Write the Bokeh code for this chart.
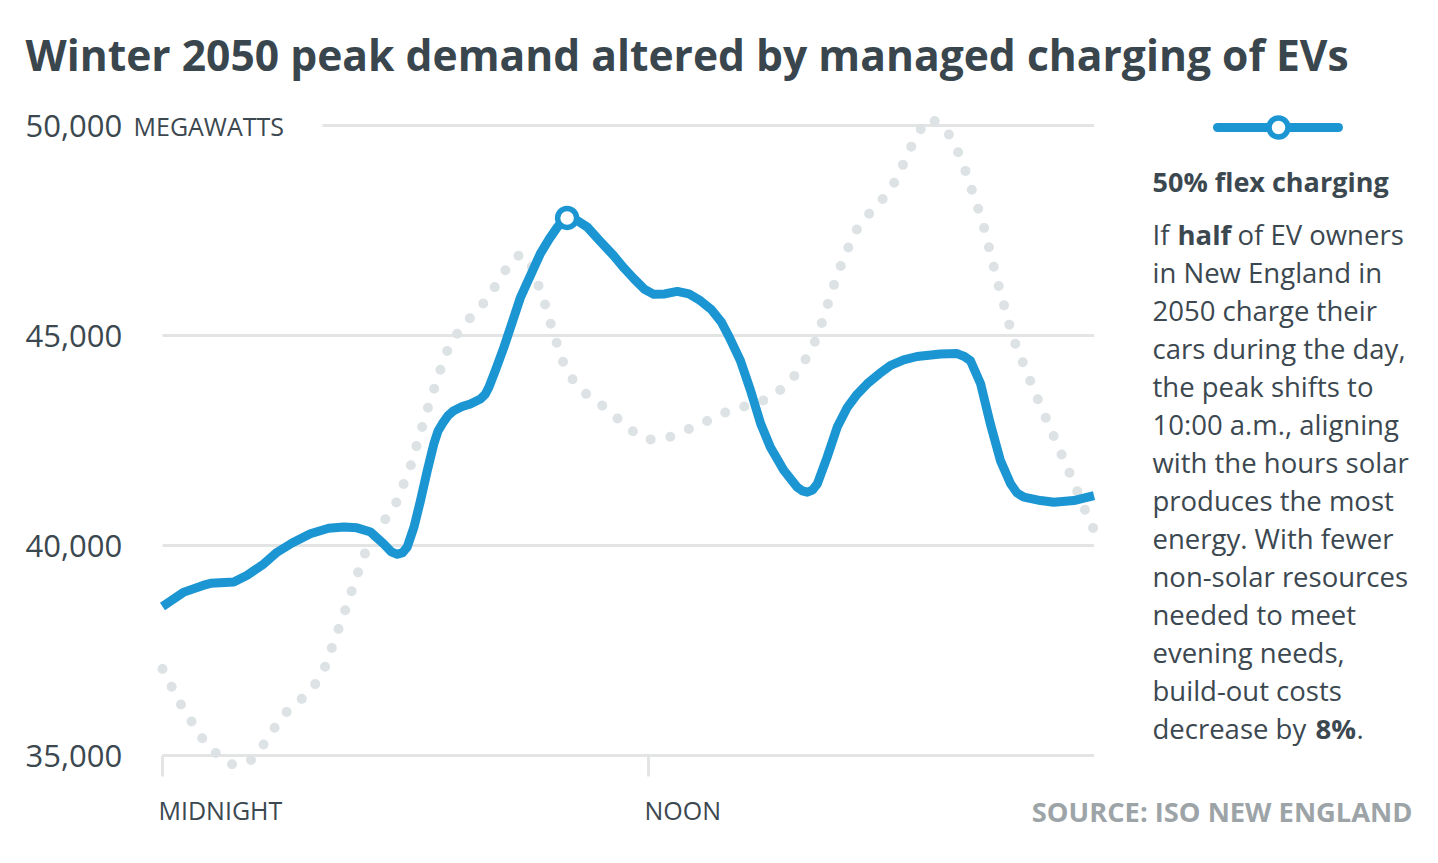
from bokeh.plotting import figure
from bokeh.models import Range1d, Label
from bokeh.embed import file_html
from bokeh.resources import INLINE

# ---------------- data ----------------
hours_flex = [0, 0.53, 1.0, 1.19, 1.76, 2.09, 2.5, 2.83, 3.2, 3.65, 4.1, 4.48, 4.8, 5.14,
              5.46, 5.65, 5.8, 5.93, 6.04, 6.21, 6.37, 6.54, 6.7, 6.8, 6.91, 7.05, 7.19,
              7.4, 7.6, 7.85, 7.97, 8.06, 8.22, 8.43, 8.84, 9.33, 9.55, 9.75, 9.9, 9.99,
              10.2, 10.49, 10.8, 11.14, 11.4, 11.64, 11.9, 12.13, 12.4, 12.71, 13.0,
              13.25, 13.55, 13.8, 14.0, 14.27, 14.52, 14.77, 15.01, 15.34, 15.67, 15.8,
              15.92, 16.05, 16.17, 16.41, 16.66, 16.91, 17.15, 17.4, 17.7, 17.98, 18.3,
              18.63, 19.21, 19.62, 19.8, 19.95, 20.2, 20.44, 20.69, 20.94, 21.1, 21.27,
              21.68, 22.01, 22.5, 23.0]
mw_flex = [38550, 38890, 39050, 39100, 39130, 39290, 39560, 39840, 40060, 40280, 40410,
           40440, 40420, 40320, 40040, 39850, 39790, 39830, 39960, 40440, 41070, 41790,
           42420, 42720, 42900, 43090, 43210, 43310, 43370, 43490, 43600, 43770, 44170,
           44720, 45910, 46950, 47300, 47580, 47750, 47800, 47760, 47580, 47250, 46900,
           46600, 46350, 46100, 45980, 45990, 46050, 45990, 45850, 45620, 45320, 44950,
           44400, 43690, 42900, 42340, 41790, 41390, 41300, 41270, 41320, 41470, 42100,
           42820, 43290, 43600, 43850, 44090, 44290, 44420, 44500, 44560, 44570, 44500,
           44400, 43850, 42900, 42020, 41470, 41250, 41150, 41070, 41030, 41070, 41190]

hours_base = [0, 0.44, 0.97, 1.3, 1.69, 2.15, 2.46, 2.73, 3.03, 3.4, 3.74, 3.99, 4.49,
              4.97, 5.46, 5.75, 6.12, 6.53, 6.99, 7.23, 7.54, 7.88, 8.17, 8.43, 8.72,
              8.9, 9.09, 9.43, 9.57, 9.86, 10.08, 10.4, 10.81, 11.19, 11.56, 11.98,
              12.46, 12.92, 13.37, 13.82, 14.28, 14.75, 15.18, 15.55, 15.83, 16.07,
              16.25, 16.55, 16.71, 17.08, 17.38, 17.72, 18.02, 18.24, 18.44, 18.65,
              18.97, 19.35, 19.59, 19.78, 20.25, 20.61, 21.0, 21.56, 22.14, 22.53,
              22.91, 23.0]
mw_base = [37060, 36240, 35420, 35070, 34790, 34850, 35210, 35610, 36010, 36310, 36650,
           37050, 38400, 39760, 40570, 40970, 41870, 43210, 44560, 44990, 45360, 45710,
           46100, 46510, 46880, 46930, 46710, 45790, 45330, 44430, 44010, 43650, 43370,
           43060, 42750, 42520, 42560, 42740, 42930, 43140, 43290, 43410, 43640, 43970,
           44350, 44760, 45210, 46120, 46570, 47440, 47830, 48170, 48550, 48970, 49400,
           49830, 50180, 49900, 49490, 49050, 47700, 46310, 44940, 43600, 42300, 41430,
           40540, 40380]

y_ticks = [35000, 40000, 45000, 50000]
y_tick_labels = ["35,000", "40,000", "45,000", "50,000"]
y_unit_label = "MEGAWATTS"
x_ticks = [0, 12]
x_tick_labels = ["MIDNIGHT", "NOON"]

title_text = "Winter 2050 peak demand altered by managed charging of EVs"
legend_title = "50% flex charging"
source_text = "SOURCE: ISO NEW ENGLAND"

# ---------------- geometry / styles ----------------
BLUE = "#1b96d3"
DOT = "#dde2e5"
GRID = "#e3e4e4"
INK = "#3c4850"
FONT = "Open Sans"

W, H = 1430, 850
PX_H = 40.5          # pixels per hour
PX_MW = 0.042        # pixels per MW
X0 = 162             # canvas x of hour 0
Y0 = 755             # canvas y of 35,000


def hx(cx):
    return (cx - X0) / PX_H


def vy(cy):
    return 35000 + (Y0 - cy) / PX_MW


# the frame spans the whole canvas so that texts are not clipped
p = figure(width=W, height=H, output_backend="svg", toolbar_location=None,
           x_range=Range1d(hx(0), hx(W)), y_range=Range1d(vy(H), vy(0)),
           min_border=0, min_border_left=0, min_border_right=0,
           min_border_top=0, min_border_bottom=0)
p.axis.visible = False
p.grid.visible = False
p.outline_line_color = None
p.background_fill_color = "white"
p.border_fill_color = "white"

x_end = hours_flex[-1]

# grid lines (top one starts after the unit label)
grid_x0 = [0, 0, 0, hx(322)]
p.segment(x0=grid_x0, y0=y_ticks, x1=[x_end] * len(y_ticks), y1=y_ticks,
          line_color=GRID, line_width=3)
# x ticks
p.segment(x0=x_ticks, y0=[y_ticks[0]] * len(x_ticks), x1=x_ticks,
          y1=[vy(776)] * len(x_ticks), line_color=GRID, line_width=3)

# baseline (no flex) dotted series
p.line(hours_base, mw_base, line_color=DOT, line_width=10, line_dash="0 20",
       line_cap="round", line_join="round")

# 50% flex charging series
p.line(hours_flex, mw_flex, line_color=BLUE, line_width=9, line_join="round")
imax = max(range(len(mw_flex)), key=lambda i: mw_flex[i])
p.scatter([hours_flex[imax]], [mw_flex[imax]], size=19, fill_color="white",
          line_color=BLUE, line_width=5.5)

# legend icon
p.line([hx(1217), hx(1338)], [vy(127), vy(127)], line_color=BLUE, line_width=9,
       line_cap="round")
p.scatter([hx(1278)], [vy(127)], size=19, fill_color="white", line_color=BLUE,
          line_width=5.5)


def add_text(cx, cy, text, size, bold=False, color=INK, align="left"):
    p.add_layout(Label(x=hx(cx), y=vy(cy), text=text, text_font=FONT,
                       text_font_size=size, text_font_style="bold" if bold else "normal",
                       text_color=color, text_align=align, text_baseline="alphabetic"))


# title
add_text(25, 53.5, title_text, "42.6px", bold=True, color="#3a464d")

# y tick labels
for v, lab in zip(y_ticks, y_tick_labels):
    base_y = Y0 - (v - 35000) * PX_MW + 0.5
    add_text(25, base_y, lab, "31px")
add_text(133, 125 + 0.5, y_unit_label, "25px")

# x tick labels
for t, lab in zip(x_ticks, x_tick_labels):
    add_text(X0 + t * PX_H - 4, 809, lab, "25px")

# legend title & paragraph
add_text(1152, 181, legend_title, "27px", bold=True)
para = [
    [("If", False, 1152), ("half", True, 1177), ("of EV owners", False, 1237)],
    [("in New England in", False, 1152)],
    [("2050 charge their", False, 1152)],
    [("cars during the day,", False, 1152)],
    [("the peak shifts to", False, 1152)],
    [("10:00 a.m., aligning", False, 1152)],
    [("with the hours solar", False, 1152)],
    [("produces the most", False, 1152)],
    [("energy. With fewer", False, 1152)],
    [("non-solar resources", False, 1152)],
    [("needed to meet", False, 1152)],
    [("evening needs,", False, 1152)],
    [("build-out costs", False, 1152)],
    [("decrease by", False, 1152), ("8%", True, 1315), (".", False, 1356)],
]
for k, line in enumerate(para):
    for txt, bold, cx in line:
        add_text(cx, 234.3 + 38 * k, txt, "27.5px", bold=bold)

# source
add_text(1412, 811, source_text, "27.3px", bold=True, color="#9da4a7", align="right")

open("out.html", "w").write(file_html(p, INLINE))
